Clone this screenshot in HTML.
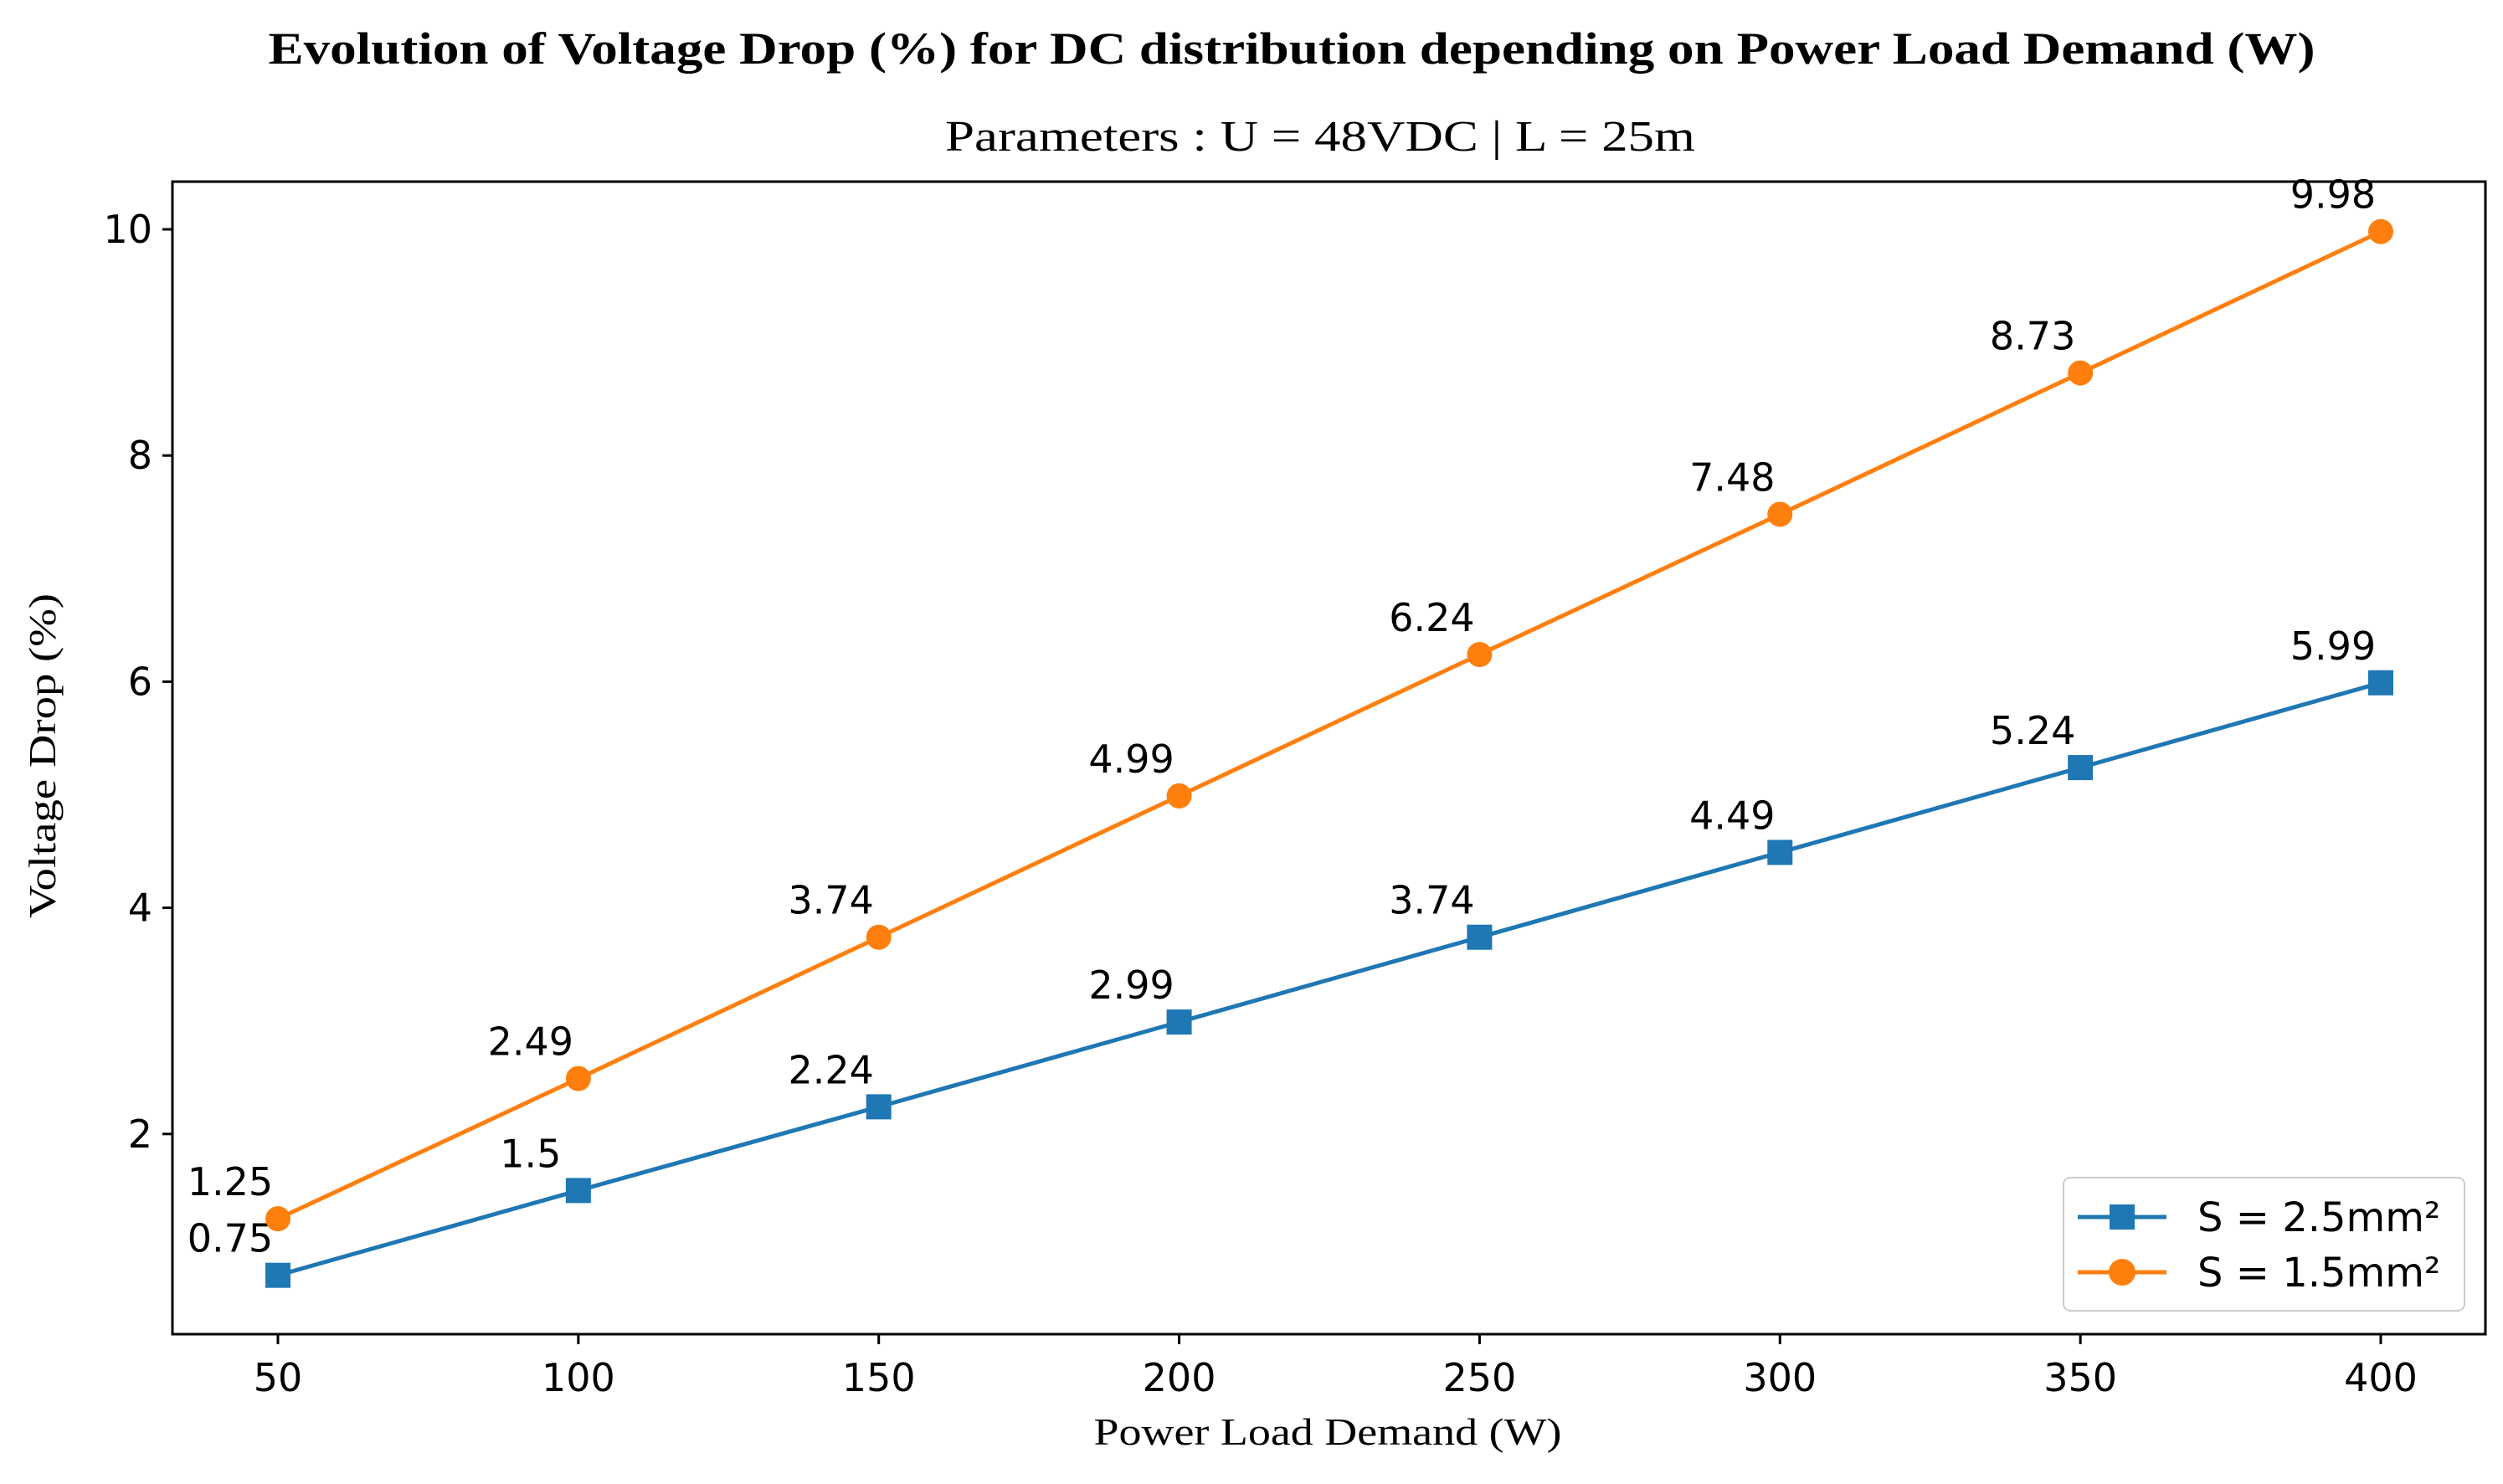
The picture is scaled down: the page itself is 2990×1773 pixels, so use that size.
<!DOCTYPE html>
<html><head><meta charset="utf-8"><style>
body{margin:0;background:#fff}
svg text{font-family:"DejaVu Sans","Liberation Sans",sans-serif}
.serif{font-family:"Liberation Serif","DejaVu Serif",serif}
</style></head><body>
<svg id="chart" width="2990" height="1768" xmlns="http://www.w3.org/2000/svg">
<rect width="2990" height="1768" fill="#fff"/>
<text class="serif" x="1543" y="76" text-anchor="middle" font-size="54" font-weight="bold" textLength="2445" lengthAdjust="spacingAndGlyphs">Evolution of Voltage Drop (%) for DC distribution depending on Power Load Demand (W)</text>
<text class="serif" x="1577" y="180" text-anchor="middle" font-size="52" textLength="896" lengthAdjust="spacingAndGlyphs">Parameters : U = 48VDC | L = 25m</text>
<text class="serif" x="1586" y="1726" text-anchor="middle" font-size="46" textLength="559" lengthAdjust="spacingAndGlyphs">Power Load Demand (W)</text>
<text class="serif" transform="translate(66,903) rotate(-90)" text-anchor="middle" font-size="46" textLength="388" lengthAdjust="spacingAndGlyphs">Voltage Drop (%)</text>
<g id="ticks"></g>
<g id="series"></g>
<rect x="206" y="217" width="2763" height="1377" fill="none" stroke="#000" stroke-width="3"/>
<g>
<rect x="2465" y="1407" width="479" height="159" rx="8" fill="#fff" fill-opacity="0.8" stroke="#ccc" stroke-width="2"/>
<g>
<line x1="2482" y1="1454" x2="2588" y2="1454" stroke="#1f77b4" stroke-width="5"/>
<rect x="2520" y="1439" width="30" height="30" fill="#1f77b4"/>
<text x="2625" y="1471" font-size="48">S = 2.5mm²</text>
</g>
<g>
<line x1="2482" y1="1520" x2="2588" y2="1520" stroke="#ff7f0e" stroke-width="5"/>
<circle cx="2535" cy="1520" r="16" fill="#ff7f0e"/>
<text x="2625" y="1537" font-size="48">S = 1.5mm²</text>
</g>
</g>
</svg>
<script>
const loads=[50,100,150,200,250,300,350,400];
const drop25=[0.75,1.5,2.24,2.99,3.74,4.49,5.24,5.99];
const drop15=[1.25,2.49,3.74,4.99,6.24,7.48,8.73,9.98];
const xTicks=[50,100,150,200,250,300,350,400];
const yTicks=[2,4,6,8,10];
const NS="http://www.w3.org/2000/svg";
function xs(v){return 332+(v-50)*(2844-332)/350;}
function ys(v){return 274+(10-v)*135.1;}
function mk(t,a,p){const e=document.createElementNS(NS,t);for(const k in a)e.setAttribute(k,a[k]);p.appendChild(e);return e;}
const tg=document.getElementById('ticks');
xTicks.forEach(v=>{
 const l=mk('line',{x1:xs(v),x2:xs(v),y1:1594,y2:1606,stroke:'#000','stroke-width':3},tg);
 
 
 const t=mk('text',{x:xs(v),y:1662,'text-anchor':'middle','font-size':46},tg);t.textContent=v;
 
 
});
yTicks.forEach(v=>{
 const l=mk('line',{x1:194,x2:206,y1:ys(v),y2:ys(v),stroke:'#000','stroke-width':3},tg);
 
 
 const t=mk('text',{x:182,y:ys(v)+16,'text-anchor':'end','font-size':46},tg);t.textContent=v;
 
 
});
const sg=document.getElementById('series');
function series(vals,color,shape,name){
 const g=mk('g',{},sg);
 
 
 mk('polyline',{points:vals.map((v,i)=>xs(loads[i])+','+ys(v)).join(' '),fill:'none',stroke:color,'stroke-width':5},g);
 vals.forEach((v,i)=>{
  const cx=xs(loads[i]),cy=ys(v);
  let m;
  if(shape==='sq')m=mk('rect',{x:cx-15,y:cy-15,width:30,height:30,fill:color},g);
  else m=mk('circle',{cx:cx,cy:cy,r:15,fill:color},g);
  
  
  const t=mk('text',{x:cx-57,y:cy-28,'text-anchor':'middle','font-size':46},g);t.textContent=v;
  
  
 });
}
series(drop25,'#1f77b4','sq','series-2.5mm');
series(drop15,'#ff7f0e','ci','series-1.5mm');
</script>
</body></html>
